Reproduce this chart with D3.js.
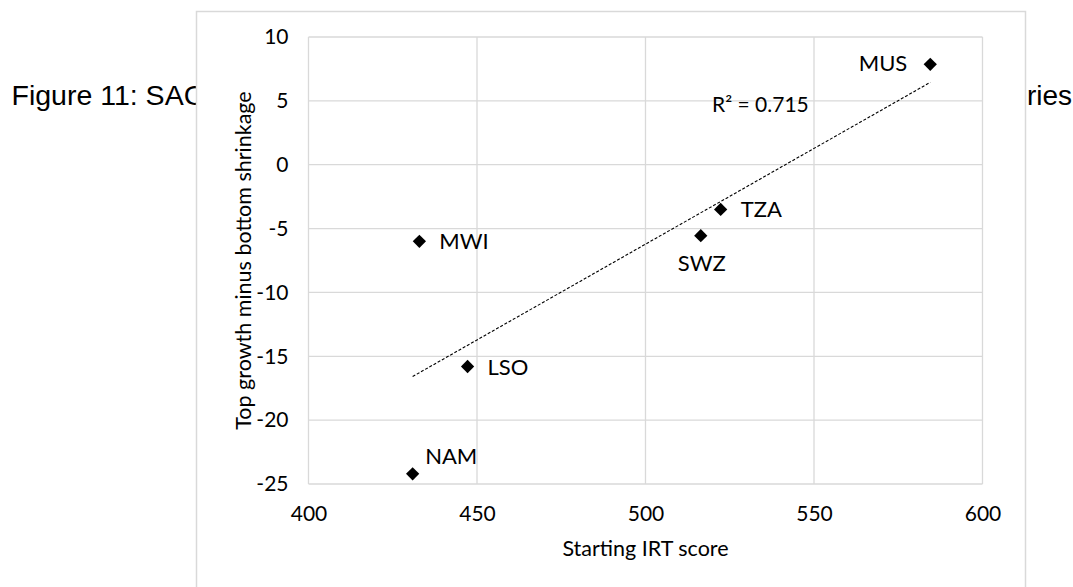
<!DOCTYPE html>
<html>
<head>
<meta charset="utf-8">
<script src="https://cdn.jsdelivr.net/npm/d3@7"></script>
<style>
  html, body { margin: 0; padding: 0; background: #fff; }
  svg { display: block; }
</style>
</head>
<body>
<svg id="chart" width="1073" height="587"></svg>
<script>
// ---- data ----
const countries = ["NAM", "MWI", "LSO", "SWZ", "TZA", "MUS"];
const startingIRT = [430.9, 432.9, 447.2, 516.4, 522.3, 584.5];
const topMinusBottom = [-24.2, -6.0, -15.8, -5.56, -3.5, 7.86];
const xTicks = [400, 450, 500, 550, 600];
const yTicks = [10, 5, 0, -5, -10, -15, -20, -25];
const xTitle = "Starting IRT score";
const yTitle = "Top growth minus bottom shrinkage";
const pageTextLeft = "Figure 11: SAC";
const pageTextRight = "ries";

// label placement (style)
const labelPlace = { NAM: "aboveRight", MWI: "right", LSO: "right", SWZ: "below", TZA: "right", MUS: "left" };

const svg = d3.select("#chart");
const fontChart = "Lato, 'Open Sans', sans-serif";

// page text behind the chart box
svg.append("text").attr("x", 11.5).attr("y", 105)
  .attr("font-family", "'Liberation Sans', Arial, sans-serif").attr("font-size", 28.5)
  .attr("fill", "#000").text(pageTextLeft);
svg.append("text").attr("x", 1027).attr("y", 105)
  .attr("font-family", "'Liberation Sans', Arial, sans-serif").attr("font-size", 28)
  .attr("fill", "#000").text(pageTextRight);

// chart box
svg.append("rect").attr("x", 196.5).attr("y", 11.5).attr("width", 829).attr("height", 620)
  .attr("fill", "#fff").attr("stroke", "#d9d9d9").attr("stroke-width", 1.5);

const plot = { left: 308.5, right: 982.5, top: 37, bottom: 484 };
const x = d3.scaleLinear().domain([400, 600]).range([plot.left, plot.right]);
const y = d3.scaleLinear().domain([-25, 10]).range([plot.bottom, plot.top]);

// gridlines
const g = svg.append("g");
g.selectAll("line.h").data(yTicks).join("line")
  .attr("x1", plot.left).attr("x2", plot.right)
  .attr("y1", d => y(d)).attr("y2", d => y(d))
  .attr("stroke", "#d9d9d9").attr("stroke-width", 1.3);
g.selectAll("line.v").data(xTicks).join("line")
  .attr("y1", plot.top).attr("y2", plot.bottom)
  .attr("x1", d => x(d)).attr("x2", d => x(d))
  .attr("stroke", "#d9d9d9").attr("stroke-width", 1.3);

// axes (labels only, via d3 axis)
const fmt = d => String(d);
const yAxis = svg.append("g").attr("transform", `translate(${plot.left},0)`)
  .call(d3.axisLeft(y).tickValues(yTicks).tickSize(0).tickPadding(20).tickFormat(fmt));
const xAxis = svg.append("g").attr("transform", `translate(0,${plot.bottom})`)
  .call(d3.axisBottom(x).tickValues(xTicks).tickSize(0).tickPadding(22).tickFormat(fmt));
[xAxis, yAxis].forEach(a => {
  a.select(".domain").remove();
  a.selectAll("text").attr("font-family", fontChart).attr("font-size", 21).attr("fill", "#000");
});

// axis titles
svg.append("text").attr("x", (plot.left + plot.right) / 2).attr("y", 556)
  .attr("text-anchor", "middle").attr("font-family", fontChart).attr("font-size", 21.5)
  .attr("fill", "#000").text(xTitle);
svg.append("text")
  .attr("transform", `translate(251,${(plot.top + plot.bottom) / 2}) rotate(-90)`)
  .attr("text-anchor", "middle").attr("font-family", fontChart).attr("font-size", 21.5)
  .attr("fill", "#000").text(yTitle);

// linear trendline
const pts = countries.map((c, i) => ({ c, x: startingIRT[i], y: topMinusBottom[i] }));
const mx = d3.mean(pts, d => d.x), my = d3.mean(pts, d => d.y);
const sxy = d3.sum(pts, d => (d.x - mx) * (d.y - my));
const sxx = d3.sum(pts, d => (d.x - mx) ** 2);
const syy = d3.sum(pts, d => (d.y - my) ** 2);
const slope = sxy / sxx, intercept = my - slope * mx;
const r2 = (sxy * sxy) / (sxx * syy);
const [x0, x1] = d3.extent(pts, d => d.x);
svg.append("path")
  .datum([x0, x1])
  .attr("d", d3.line().x(d => x(d)).y(d => y(intercept + slope * d)))
  .attr("stroke", "#000").attr("stroke-width", 1.1).attr("stroke-dasharray", "3,1.8").attr("fill", "none");

svg.append("text").attr("x", 712).attr("y", 111.5)
  .attr("font-family", fontChart).attr("font-size", 21).attr("fill", "#000")
  .text("R² = " + r2.toFixed(3));

// markers
const diamond = d3.symbol().type(d3.symbolSquare).size(88);
svg.append("g").selectAll("path").data(pts).join("path")
  .attr("d", diamond)
  .attr("transform", d => `translate(${x(d.x)},${y(d.y)}) rotate(45)`)
  .attr("fill", "#000");

// data labels
const off = {
  right: { dx: 20, dy: 8, anchor: "start" },
  left: { dx: -23, dy: 7, anchor: "end" },
  below: { dx: 1, dy: 35, anchor: "middle" },
  aboveRight: { dx: 12.5, dy: -10, anchor: "start" }
};
svg.append("g").selectAll("text").data(pts).join("text")
  .attr("x", d => x(d.x) + off[labelPlace[d.c]].dx)
  .attr("y", d => y(d.y) + off[labelPlace[d.c]].dy)
  .attr("text-anchor", d => off[labelPlace[d.c]].anchor)
  .attr("font-family", fontChart).attr("font-size", 22).attr("fill", "#000")
  .text(d => d.c);
</script>
</body>
</html>
